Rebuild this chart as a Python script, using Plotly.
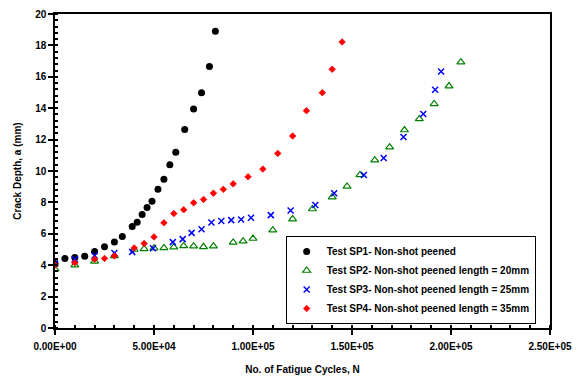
import plotly.graph_objects as go

# ---- data ----
sp1_x = [0, 5000, 10000, 15000, 20000, 25000, 30000, 34000, 39000, 41500, 44000,
         46500, 49000, 52000, 55000, 58000, 61000, 65500, 70000, 74000, 78000, 81000]
sp1_y = [4.11, 4.43, 4.49, 4.57, 4.87, 5.17, 5.48, 5.83, 6.47, 6.74, 7.23,
         7.68, 8.08, 8.83, 9.48, 10.40, 11.19, 12.65, 13.95, 14.99, 16.65, 18.90]

sp2_x = [0, 10000, 20000, 30000, 40000, 45000, 50000, 55000, 60000, 65000, 70000,
         75000, 80000, 90000, 95000, 100000, 110000, 120000, 130000, 140000, 147500,
         154000, 161500, 169000, 176500, 184000, 191500, 199000, 205000]
sp2_y = [3.75, 4.00, 4.25, 4.59, 5.00, 5.04, 5.08, 5.10, 5.15, 5.23, 5.21,
         5.17, 5.21, 5.45, 5.53, 5.70, 6.23, 6.94, 7.58, 8.34, 9.02,
         9.75, 10.69, 11.52, 12.61, 13.32, 14.27, 15.41, 16.93]

sp3_x = [0, 10000, 20000, 30000, 39000, 49500, 59500, 64500, 69000, 74000, 79000,
         84000, 89000, 94000, 99000, 109000, 119000, 131500, 141000, 156000, 166000,
         176000, 186000, 192000, 195000]
sp3_y = [4.11, 4.38, 4.62, 4.78, 4.85, 5.08, 5.47, 5.66, 6.06, 6.29, 6.72,
         6.82, 6.87, 6.91, 7.02, 7.19, 7.48, 7.84, 8.58, 9.74, 10.83,
         12.17, 13.63, 15.18, 16.34]

sp4_x = [0, 10000, 20000, 25000, 30000, 40000, 45000, 50000, 55000, 60000, 65000,
         70000, 75000, 80000, 85000, 90000, 97500, 105000, 112500, 120000, 127000,
         135000, 140000, 145000]
sp4_y = [4.00, 4.15, 4.38, 4.43, 4.59, 5.10, 5.38, 5.80, 6.70, 7.29, 7.53,
         7.97, 8.19, 8.59, 8.83, 9.18, 9.63, 10.12, 11.12, 12.23, 13.84,
         14.99, 16.48, 18.22]

names = ["Test SP1- Non-shot peened",
         "Test SP2- Non-shot peened length = 20mm",
         "Test SP3- Non-shot peened length = 25mm",
         "Test SP4- Non-shot peened length = 35mm"]

x_tickvals = [0, 50000, 100000, 150000, 200000, 250000]
x_ticktext = ["0.00E+00", "5.00E+04", "1.00E+05", "1.50E+05", "2.00E+05", "2.50E+05"]
y_tickvals = [0, 2, 4, 6, 8, 10, 12, 14, 16, 18, 20]

FONT = "Arial, 'Liberation Sans', sans-serif"

fig = go.Figure()
fig.add_trace(go.Scatter(x=sp1_x, y=sp1_y, mode="markers", name=names[0],
                         marker=dict(symbol="circle", size=7, color="black")))
fig.add_trace(go.Scatter(x=sp2_x, y=sp2_y, mode="markers", name=names[1],
                         marker=dict(symbol="triangle-up-open", size=7, color="#008000",
                                     line=dict(width=1.2, color="#008000"))))
fig.add_trace(go.Scatter(x=sp3_x, y=sp3_y, mode="markers", name=names[2],
                         marker=dict(symbol="x-thin", size=6, color="#0000FF",
                                     line=dict(width=1.5, color="#0000FF"))))
fig.add_trace(go.Scatter(x=sp4_x, y=sp4_y, mode="markers", name=names[3],
                         marker=dict(symbol="diamond", size=5, color="#FF0000",
                                     line=dict(width=0.8, color="#FF0000"))))

axis_common = dict(showgrid=False, zeroline=False, showline=True, linecolor="black",
                   linewidth=1.5, mirror=True, ticks="outside", ticklen=5,
                   tickcolor="black", tickwidth=1.5, automargin=False,
                   tickfont=dict(family=FONT, size=10, color="black", weight="bold"))

fig.update_xaxes(range=[0, 250000], tickvals=x_tickvals, ticktext=x_ticktext,
                 ticklabelstandoff=3,
                 minor=dict(ticks="inside", ticklen=3, dtick=10000, tickcolor="black"),
                 title=dict(text="No. of Fatigue Cycles, N", standoff=15,
                            font=dict(family=FONT, size=10, color="black", weight="bold")),
                 **axis_common)
fig.update_yaxes(range=[0, 20], tickvals=y_tickvals,
                 minor=dict(ticks="inside", ticklen=3, dtick=0.4, tickcolor="black"),
                 title=dict(text="Crack Depth, a (mm)", standoff=12,
                            font=dict(family=FONT, size=10, color="black", weight="bold")),
                 **axis_common)

fig.update_layout(
    width=576, height=370,
    margin=dict(l=47, r=34, t=6, b=50, autoexpand=False),
    paper_bgcolor="white", plot_bgcolor="white",
    showlegend=True,
    legend=dict(x=0.466, y=0.293, xanchor="left", yanchor="top",
                bgcolor="white", bordercolor="black", borderwidth=1,
                itemwidth=30,
                font=dict(family=FONT, size=10, color="black", weight="bold")),
)

fig.write_html("out.html")
